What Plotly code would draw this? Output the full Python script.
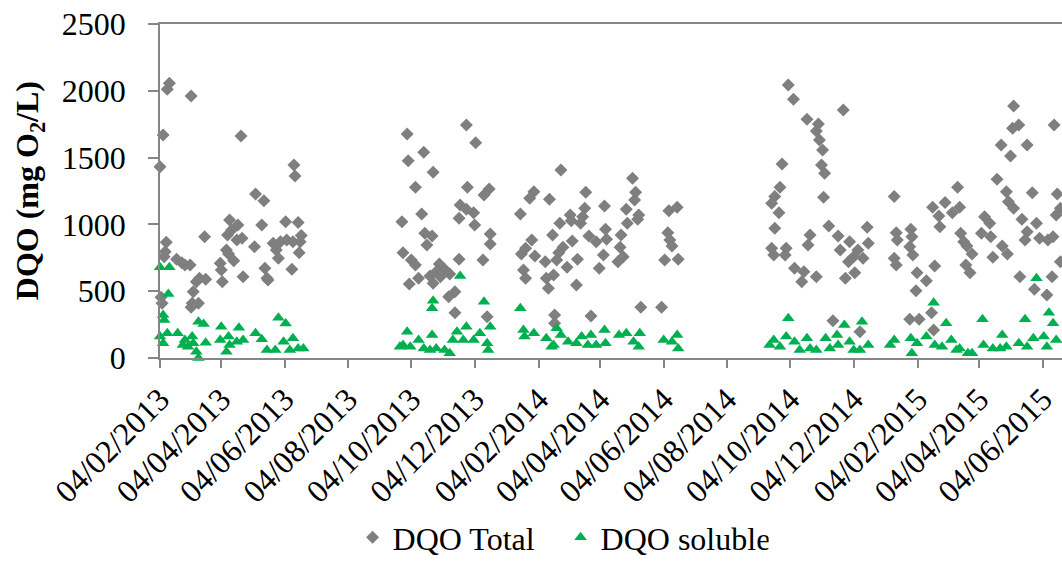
import plotly.graph_objects as go

# DQO Total (mg O2/L) sample dates and values
total_dates = [
    "2013-02-13","2013-02-11","2013-03-06","2013-02-07","2013-04-23","2013-02-04","2013-06-13","2013-06-14","2013-05-07","2013-05-15",
    "2013-04-12","2013-04-20","2013-05-13","2013-06-05","2013-06-17","2013-04-14","2013-04-10","2013-03-19","2013-04-19","2013-04-24",
    "2013-02-10","2013-06-20","2013-05-06","2013-05-24","2013-05-31","2013-06-06","2013-06-12","2013-06-19","2013-05-27","2013-04-09",
    "2013-06-18","2013-02-09","2013-02-08","2013-04-11","2013-02-20","2013-02-25","2013-02-28","2013-03-05","2013-04-16","2013-05-29",
    "2013-04-03","2013-04-04","2013-05-16","2013-06-11","2013-03-14","2013-03-20","2013-04-25","2013-05-18","2013-03-11","2013-04-05",
    "2013-05-19","2013-03-08","2013-02-05","2013-02-06","2013-03-07","2013-03-13","2013-03-06",
    "2013-11-26","2013-09-30","2013-12-05","2013-10-16","2013-10-01","2013-10-25","2013-10-08","2013-11-27","2013-12-18","2013-12-13",
    "2013-11-20","2013-11-26","2013-10-14","2013-12-03","2013-09-25","2013-11-19","2013-12-04","2013-10-17","2013-10-24","2013-12-19",
    "2013-10-19","2013-12-19","2013-09-26","2013-10-04","2013-10-08","2013-11-19","2013-12-12","2013-10-31","2013-11-05","2013-10-28",
    "2013-10-22","2013-10-11","2013-10-02","2013-10-25","2013-11-10","2013-11-15","2013-11-09","2013-11-15","2013-12-16","2013-11-01",
    "2014-02-25","2014-05-05","2014-01-30","2014-01-26","2014-02-14","2014-03-21","2014-05-08","2014-05-07","2014-01-17","2014-03-20",
    "2014-04-08","2014-04-29","2014-05-11","2014-06-09","2014-06-17","2014-03-06","2014-03-18","2014-03-16","2014-02-24","2014-03-07",
    "2014-04-30","2014-05-10","2014-02-17","2014-03-24","2014-04-09","2014-04-24","2014-06-08","2014-01-28","2014-03-08","2014-03-31",
    "2014-04-10","2014-06-10","2014-06-12","2014-01-22","2014-02-27","2014-04-23","2014-01-31","2014-01-18","2014-02-23","2014-03-13",
    "2014-04-07","2014-04-26","2014-04-21","2014-06-05","2014-06-18","2014-02-10","2014-02-21","2014-03-03","2014-04-03","2014-01-20",
    "2014-01-22","2014-02-11","2014-02-18","2014-02-13","2014-03-12","2014-05-13","2014-06-02","2014-02-19","2014-03-26","2014-02-19",
    "2014-10-02","2014-10-07","2014-11-24","2014-10-20","2014-10-31","2014-10-29","2014-11-01","2014-11-04","2014-09-26","2014-11-03",
    "2014-11-06","2014-09-24","2014-09-19","2014-09-16","2014-09-23","2014-11-05","2014-09-19","2014-11-10","2014-12-17","2014-10-23",
    "2014-11-19","2014-10-21","2014-11-30","2014-12-18","2014-09-16","2014-09-30","2014-11-21","2014-12-08","2014-09-18","2014-09-29",
    "2014-12-04","2014-12-13","2014-11-29","2014-10-08","2014-10-17","2014-10-29","2014-10-15","2014-11-26","2014-12-05","2014-11-14",
    "2014-12-10",
    "2015-05-07","2015-05-06","2015-05-12","2015-06-15","2015-04-25","2015-05-20","2015-05-04","2015-04-21","2015-03-14","2015-01-12",
    "2015-05-25","2015-06-18","2015-04-30","2015-03-02","2015-02-18","2015-03-16","2015-05-02","2015-05-07","2015-03-09","2015-02-24",
    "2015-02-25","2015-04-09","2015-04-14","2015-05-15","2015-06-17","2015-01-14","2015-01-28","2015-01-29","2015-01-15","2015-03-17",
    "2015-04-06","2015-05-20","2015-05-29","2015-05-18","2015-06-01","2015-06-09","2015-06-14","2015-03-20","2015-04-15","2015-01-27",
    "2015-03-23","2015-04-26","2015-01-30","2015-01-12","2015-01-14","2015-02-20","2015-03-28","2015-04-17","2015-05-01","2015-03-22",
    "2015-03-26","2015-02-03","2015-02-12","2015-02-02","2015-05-13","2015-06-13","2015-05-27","2015-06-08","2015-06-21","2015-02-17",
    "2015-01-27","2015-02-05","2015-02-19","2015-06-21",
]
total_values = [
    2056,2011,1961,1669,1662,1432,1445,1362,1228,1177,
    1033,995,995,1020,1015,958,920,908,883,896,
    866,916,833,858,870,883,870,870,808,808,
    788,796,758,778,739,713,696,696,728,746,
    709,659,671,664,597,589,609,597,571,571,
    584,496,454,409,409,409,379,
    1744,1677,1612,1540,1477,1390,1278,1278,1265,1220,
    1145,1113,1078,1088,1020,1046,995,933,913,928,
    846,853,788,734,696,739,734,704,664,646,
    614,597,554,559,629,496,459,339,309,609,
    1407,1345,1245,1195,1188,1240,1240,1183,1078,1120,
    1138,1113,1070,1103,1128,1070,1058,1008,1008,1028,
    1008,1038,920,913,963,920,938,883,876,870,
    888,883,838,821,829,829,763,778,788,739,
    771,758,721,734,739,721,734,679,671,659,
    597,597,621,522,546,379,379,322,314,260,
    2043,1936,1856,1787,1751,1699,1632,1557,1452,1445,
    1382,1278,1208,1158,1088,1203,971,988,978,920,
    913,846,870,858,821,821,808,808,771,771,
    758,746,721,671,646,609,571,597,639,279,
    197,
    1886,1719,1744,1744,1594,1594,1512,1338,1278,1208,
    1237,1228,1245,1163,1128,1128,1170,1120,1088,1063,
    983,1058,1008,1038,1070,938,963,908,883,933,
    933,945,1008,883,896,883,908,870,908,833,
    838,838,771,746,696,689,778,754,778,696,
    639,639,579,504,609,609,514,472,721,339,
    290,290,210,1120,
]

# DQO soluble (mg O2/L) sample dates and values
soluble_dates = [
    "2013-02-04","2013-02-13","2013-02-12","2013-02-07","2013-02-08","2013-03-13","2013-03-18","2013-05-29","2013-06-05","2013-04-04",
    "2013-04-21","2013-02-04","2013-02-11","2013-02-21","2013-03-07","2013-03-20","2013-02-26","2013-03-03","2013-03-11","2013-03-13",
    "2013-04-03","2013-04-11","2013-04-12","2013-04-09","2013-04-19","2013-04-25","2013-05-07","2013-05-13","2013-05-18","2013-05-26",
    "2013-06-03","2013-06-12","2013-06-17","2013-06-22","2013-02-07","2013-02-28","2013-03-08","2013-06-09",
    "2013-11-20","2013-10-25","2013-10-24","2013-12-13","2013-09-30","2013-10-24","2013-11-26","2013-11-17","2013-12-19","2013-10-11",
    "2013-09-26","2013-10-03","2013-10-16","2013-10-28","2013-11-05","2013-11-10","2013-11-13","2013-12-03","2013-12-09","2013-12-16",
    "2013-12-17","2013-11-23","2013-10-22","2013-09-23",
    "2014-01-17","2014-01-20","2014-01-30","2014-01-21","2014-02-11","2014-02-21","2014-02-25","2014-03-04","2014-02-18","2014-03-17",
    "2014-03-26","2014-04-08","2014-03-12","2014-03-31","2014-04-09","2014-04-22","2014-04-29","2014-05-12","2014-05-06","2014-05-11",
    "2014-06-04","2014-06-17","2014-06-12","2014-06-18","2014-02-16","2014-03-23",
    "2014-10-02","2014-11-25","2014-12-12","2014-09-18","2014-09-30","2014-10-08","2014-10-20","2014-11-07","2014-11-18","2014-11-30",
    "2014-12-18","2014-09-14","2014-10-13","2014-10-29","2014-11-11","2014-12-04","2014-09-24","2014-10-23","2014-12-10","2014-11-19",
    "2015-05-29","2015-02-19","2015-04-07","2015-05-18","2015-06-10","2015-03-03","2015-06-14","2015-04-26","2015-01-12","2015-01-28",
    "2015-02-03","2015-02-12","2015-03-08","2015-02-20","2015-02-27","2015-03-16","2015-03-24","2015-03-28","2015-04-08","2015-04-17",
    "2015-04-30","2015-05-12","2015-05-26","2015-06-05","2015-06-17","2015-01-29","2015-01-08","2015-05-20","2015-04-24","2015-06-08",
    "2015-03-13",
]
soluble_values = [
    679,679,479,322,284,272,254,302,259,234,
    227,160,185,185,160,115,97,85,47,0,
    135,160,97,47,122,135,185,140,60,60,
    122,147,72,72,110,135,110,60,
    614,429,372,421,197,172,234,197,234,135,
    97,85,72,72,60,35,135,135,185,110,
    60,135,60,85,
    372,210,185,160,147,222,172,122,97,160,
    172,210,110,97,110,172,185,185,122,85,
    135,172,122,72,85,97,
    297,247,272,135,160,122,147,147,172,122,
    97,97,60,60,72,60,85,72,60,97,
    597,414,290,290,339,260,260,172,135,147,
    110,160,135,97,85,72,35,35,97,72,
    85,110,147,160,135,35,97,85,72,85,
    60,
]

x_range = ["2013-02-04", "2015-06-22 14:00"]
y_range = [0, 2500]

FONT = "Liberation Serif"
FS = 32
AXIS_COLOR = "#868686"

fig = go.Figure()
fig.add_trace(go.Scatter(
    x=total_dates, y=total_values, mode="markers", name="DQO Total",
    marker=dict(symbol="diamond", size=10, color="#7F7F7F"),
    cliponaxis=False,
))
fig.add_trace(go.Scatter(
    x=soluble_dates, y=soluble_values, mode="markers", name="DQO soluble",
    marker=dict(symbol="triangle-up", size=11, color="#00B050"),
    cliponaxis=False,
))

fig.update_layout(
    width=1062, height=565,
    margin=dict(l=160, r=0, t=24, b=207),
    paper_bgcolor="white", plot_bgcolor="white",
    font=dict(family=FONT, size=FS, color="black"),
    legend=dict(
        orientation="h", xref="container", yref="container",
        x=0.332, xanchor="left", y=0.0, yanchor="bottom",
        font=dict(family=FONT, size=FS, color="black"),
        entrywidth=163, entrywidthmode="pixels",
    ),
    xaxis=dict(
        type="date", range=x_range,
        tick0="2013-02-04", dtick="M2", tickformat="%d/%m/%Y",
        tickangle=-45, ticks="outside", ticklen=8, tickwidth=1.5, tickcolor=AXIS_COLOR,
        showline=True, linecolor=AXIS_COLOR, linewidth=1.5, mirror=True,
        showgrid=False, zeroline=False,
        tickfont=dict(family=FONT, size=FS, color="black"),
    ),
    yaxis=dict(
        range=y_range, tick0=0, dtick=500,
        ticks="outside", ticklen=10, tickwidth=1.5, tickcolor=AXIS_COLOR,
        showline=True, linecolor=AXIS_COLOR, linewidth=1.5,
        showgrid=False, zeroline=False,
        ticklabelstandoff=16,
        tickfont=dict(family=FONT, size=FS, color="black"),
    ),
    annotations=[dict(
        text="<b>DQO (mg O<sub>2</sub>/L)</b>",
        xref="paper", yref="paper", x=-0.145, y=0.5,
        xanchor="center", yanchor="middle", textangle=-90, showarrow=False,
        font=dict(family=FONT, size=FS, color="black"),
    )],
)

# make sure every SVG text keeps the serif face
force_font = """
function fixFonts(){
  document.querySelectorAll('svg text, svg tspan').forEach(function(t){
    t.style.setProperty('font-family', '"Liberation Serif", "Times New Roman", serif', 'important');
  });
}
fixFonts();
setTimeout(fixFonts, 50);
setTimeout(fixFonts, 300);
"""

fig.write_html("out.html", post_script=force_font)
